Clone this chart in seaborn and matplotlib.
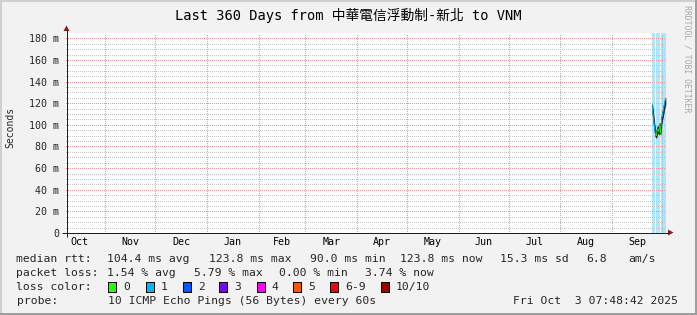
import numpy as np
import pandas as pd
import matplotlib
matplotlib.use("Agg")
import matplotlib.pyplot as plt
import matplotlib.dates as mdates
from matplotlib.patches import Rectangle, Polygon
import seaborn as sns

sns.set_style("white")
plt.rcParams["font.family"] = ["DejaVu Sans Mono", "Noto Sans CJK TC"]
plt.rcParams["lines.scale_dashes"] = False

# ---------------- data ----------------
title = "Last 360 Days from 中華電信浮動制-新北 to VNM"
y_unit_label = "Seconds"
range_start = "2024-10-08 07:48:42"
range_end = "2025-10-03 07:48:42"

times = pd.date_range("2025-09-25 00:00", periods=17, freq="12h")
median_ms = [117.8, 110, 103, 97, 91, 90.0, 95, 96, 94, 99, 93, 104, 108, 112, 116, 121, 123.8]
smoke_lo = [113, 106, 99, 93, 89, 88, 92, 93, 91, 96, 91, 100, 104, 108, 112, 116, 119]
smoke_hi = [119, 113, 106, 100, 95, 94, 98, 99, 97, 102, 97, 107, 111, 115, 119, 123, 125]
loss_count = [1, 1, 1, 1, 0, 0, 1, 1, 0, 0, 0, 1, 1, 1, 1, 1, 1]

loss_bg_start = ["2025-09-25 00:00", "2025-09-27 06:00", "2025-09-30 06:00"]
loss_bg_end = ["2025-09-26 18:00", "2025-09-29 18:00", "2025-10-03 07:48"]

y_ticks = [0, 20, 40, 60, 80, 100, 120, 140, 160, 180]
y_tick_labels = ["0", "20 m", "40 m", "60 m", "80 m", "100 m", "120 m", "140 m", "160 m", "180 m"]
month_labels = ["Oct", "Nov", "Dec", "Jan", "Feb", "Mar", "Apr", "May", "Jun", "Jul", "Aug", "Sep"]

row_titles = ["median rtt:", "packet loss:", "loss color:", "probe:"]
median_items = ["104.4 ms avg", "123.8 ms max", "90.0 ms min", "123.8 ms now", "15.3 ms sd", "6.8", "am/s"]
loss_items = ["1.54 % avg", "5.79 % max", "0.00 % min", "3.74 % now"]
loss_color_labels = ["0", "1", "2", "3", "4", "5", "6-9", "10/10"]
loss_colors = ["#26ff00", "#00b8ff", "#0059ff", "#7e00ff", "#ff00ff", "#ff5500", "#ff0000", "#a10000"]
probe_text = "10 ICMP Echo Pings (56 Bytes) every 60s"
stamp_text = "Fri Oct  3 07:48:42 2025"
watermark = "RRDTOOL / TOBI OETIKER"

# ---------------- figure ----------------
W, H = 697, 315
fig = plt.figure(figsize=(W / 100, H / 100), dpi=100)
fig.patch.set_facecolor("#f2f2f2")

ax = fig.add_axes([66 / W, 1 - 233 / H, 600 / W, 200 / H])
ax.set_facecolor("white")

# loss background
for a, b in zip(loss_bg_start, loss_bg_end):
    ax.axvspan(mdates.date2num(pd.Timestamp(a)), mdates.date2num(pd.Timestamp(b)),
               color="#00b8ff", alpha=0.33, lw=0, zorder=1)

# smoke
ax.fill_between(mdates.date2num(times), smoke_lo, smoke_hi, color="#1e1e1e", lw=0.5,
                edgecolor="#1e1e1e", zorder=3)

# median line coloured by loss
seg_rows = []
for i in range(len(times) - 1):
    for j in (i, i + 1):
        seg_rows.append({"t": times[j], "v": median_ms[j], "seg": i, "loss": str(loss_count[i])})
seg_df = pd.DataFrame(seg_rows)
sns.lineplot(data=seg_df, x="t", y="v", units="seg", estimator=None, hue="loss",
             palette={"0": loss_colors[0], "1": loss_colors[1]}, lw=0.6, legend=False,
             ax=ax, zorder=4)

# axes scales
x0 = mdates.date2num(pd.Timestamp(range_start))
x1 = mdates.date2num(pd.Timestamp(range_end))
ax.set_xlim(x0, x1)
ax.set_ylim(0, 184.9)
ax.set_xlabel("")
ax.set_ylabel("")

month_starts = pd.date_range("2024-10-01", "2025-10-01", freq="MS")
month_nums = mdates.date2num(month_starts)
mids = [(month_nums[i] + month_nums[i + 1]) / 2 for i in range(len(month_nums) - 1)]
ax.set_xticks([m for m in month_nums if x0 < m < x1])
ax.set_xticklabels([])
ax.set_xticks(mids, labels=month_labels, minor=True)
ax.tick_params(axis="x", which="both", length=0, pad=2.6, labelsize=7.2, colors="black")

ax.set_yticks(y_ticks, labels=y_tick_labels)
ax.yaxis.set_minor_locator(matplotlib.ticker.MultipleLocator(5))
ax.tick_params(axis="y", which="major", direction="out", length=2.2, width=0.7,
               color="#333333", pad=2.5, labelsize=7.2)
ax.tick_params(axis="y", which="minor", length=0)

ax.set_axisbelow(False)
grid_minor = dict(color="#c4c4c4", lw=0.72, linestyle=(0, (0.72, 1.44)), antialiased=False)
grid_major = dict(color="#e89a9a", lw=0.72, linestyle=(0, (0.72, 1.44)), antialiased=False)
ax.grid(False)
ax.xaxis.grid(False, which="minor")
ax.yaxis.grid(True, which="minor", **grid_minor)
ax.yaxis.grid(True, which="major", **grid_major)
ax.xaxis.grid(True, which="major", **grid_major)
for s in ax.spines.values():
    s.set_visible(False)

# ---------------- overlay (decorations and text) ----------------
ov = fig.add_axes([0, 0, 1, 1], zorder=10)
ov.set_xlim(0, W)
ov.set_ylim(H, 0)
ov.axis("off")
ov.patch.set_alpha(0)

# frame shading
ov.add_patch(Rectangle((0, 0), W, 2, color="#cfcfcf", lw=0))
ov.add_patch(Rectangle((0, 0), 2, H, color="#cfcfcf", lw=0))
ov.add_patch(Rectangle((0, H - 2), W, 2, color="#9e9e9e", lw=0))
ov.add_patch(Rectangle((W - 2, 0), 2, H, color="#9e9e9e", lw=0))

# axis lines and arrows
ov.plot([62, 669], [232.5, 232.5], color="#1f1f1f", lw=0.72, solid_capstyle="butt")
ov.plot([66.5, 66.5], [237, 30], color="#1f1f1f", lw=0.72, solid_capstyle="butt")
ov.add_patch(Polygon([[668, 229.5], [673.5, 232.5], [668, 235.5]], closed=True,
                     color="#7f1f1f", lw=0))
ov.add_patch(Polygon([[63.5, 31], [66.5, 25.5], [69.5, 31]], closed=True,
                     color="#7f1f1f", lw=0))

# title, unit, watermark
ov.text(348.5, 15, title, ha="center", va="center", fontsize=9.9, color="black")
ov.text(10.5, 127.5, y_unit_label, ha="center", va="center", rotation=90, fontsize=7.0)
ov.text(687.5, 5, watermark, ha="center", va="top", rotation=-90, fontsize=5.85,
        color="#a8a8a8")

# legend rows
fs = 8.2
row_y = [259, 273, 287, 301]
for t, yy in zip(row_titles, row_y):
    ov.text(16.5, yy, t, ha="left", va="center", fontsize=fs)

median_x = [106.7, 209.0, 310.0, 400.5, 500.5, 586.5, 628.3]
for t, xx in zip(median_items, median_x):
    ov.text(xx, row_y[0], t, ha="left", va="center", fontsize=fs)

loss_x = [107.0, 194.0, 279.0, 365.0]
for t, xx in zip(loss_items, loss_x):
    ov.text(xx, row_y[1], t, ha="left", va="center", fontsize=fs)

box_x = [108.3, 145.7, 182.7, 219.3, 256.7, 293.3, 330.0, 381.0]
for lab, col, bx in zip(loss_color_labels, loss_colors, box_x):
    ov.add_patch(Rectangle((bx, 281.5), 8, 10, facecolor=col, edgecolor="black", lw=0.72))
    ov.text(bx + 15, row_y[2], lab, ha="left", va="center", fontsize=fs)

ov.text(107.5, row_y[3], probe_text, ha="left", va="center", fontsize=fs)
ov.text(513.3, row_y[3], stamp_text, ha="left", va="center", fontsize=fs)

fig.savefig("out.png", dpi=100, facecolor=fig.get_facecolor())
